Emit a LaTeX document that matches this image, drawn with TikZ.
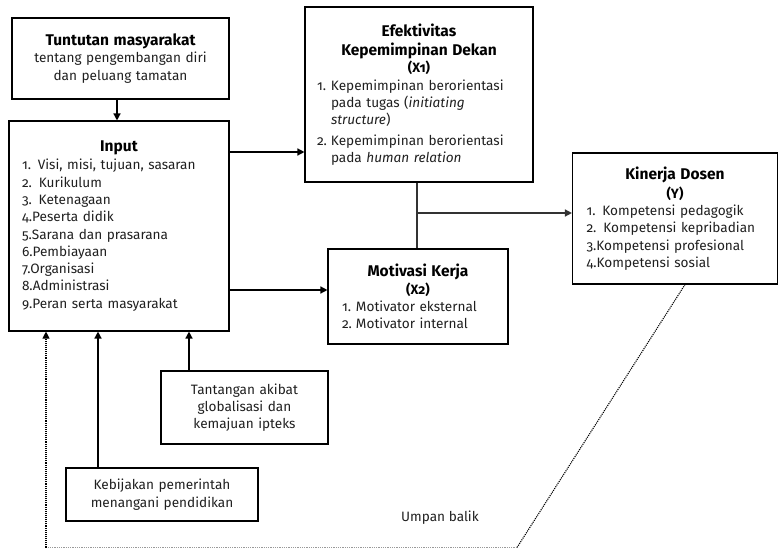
\documentclass[tikz,border=0pt]{standalone}
\usepackage{fontspec}
\setmainfont{Fira Sans}[Numbers=OldStyle]
\usetikzlibrary{arrows.meta}

\newcommand{\ttl}[1]{\makebox[\hsize]{\fontsize{15.5}{18}\selectfont\bfseries\color{black}#1}}
\newcommand{\subttl}[1]{\makebox[\hsize]{\fontsize{13.5}{16}\selectfont\bfseries\color{black}#1}}
\newcommand{\itm}[1]{\makebox[14pt][l]{#1}}

\begin{document}
\begin{tikzpicture}[x=1pt, y=-1pt, font=\fontsize{13.6}{17.3}\selectfont]
    \tikzstyle{box} = [draw, line width=1.1pt, inner sep=0pt, text=black!88]
    \tikzstyle{arr} = [line width=1.4pt, -{Triangle[length=7pt,width=7pt]}]

    \useasboundingbox (0,0) rectangle (780,549);

    \node[box, minimum width=217pt, minimum height=81pt, text width=205pt, align=center] (tun) at (120.5,58.5) {\ttl{Tuntutan masyarakat}\\ tentang pengembangan diri\\ dan peluang tamatan};

    \node[box, minimum width=220pt, minimum height=210pt, text width=194pt, align=left] (inp) at (119,226) {\ttl{Input}\\[1pt] 1. Visi, misi, tujuan, sasaran\\ 2. Kurikulum\\ 3. Ketenagaan\\ 4.Peserta didik\\ 5.Sarana dan prasarana\\ 6.Pembiayaan\\ 7.Organisasi\\ 8.Administrasi\\ 9.Peran serta masyarakat};

    \node[box, minimum width=228pt, minimum height=175pt, text width=204pt, align=left] (efek) at (419,94.5) {\ttl{Efektivitas}\\[2pt] \ttl{Kepemimpinan Dekan}\\ \subttl{(X1)}\\ \itm{1.}Kepemimpinan berorientasi\\ \itm{}pada tugas (\textit{initiating}\\ \itm{}\textit{structure})\\[3pt] \itm{2.}Kepemimpinan berorientasi\\ \itm{}pada \textit{human relation}};

    \node[box, minimum width=180pt, minimum height=95pt, text width=152pt, align=left] (mot) at (418,296.5) {\ttl{Motivasi Kerja}\\ \subttl{(X2)}\\ \itm{1.}Motivator eksternal\\ \itm{2.}Motivator internal};

    \node[box, minimum width=205pt, minimum height=131pt, text width=177pt, align=left] (kin) at (675,218.5) {\ttl{Kinerja Dosen}\\[2pt] \subttl{(Y)}\\ 1. Kompetensi pedagogik\\ 2. Kompetensi kepribadian\\ 3.Kompetensi profesional\\ 4.Kompetensi sosial};

    \node[box, minimum width=167pt, minimum height=73pt, text width=155pt, align=center] (tan) at (244.5,407.5) {Tantangan akibat\\ globalisasi dan\\ kemajuan ipteks};

    \node[box, minimum width=192pt, minimum height=53pt, text width=185pt, align=center] (keb) at (162,494.5) {Kebijakan pemerintah\\ menangani pendidikan};

    \node[text=black!88] (ub) at (440,518) {Umpan balik};

    \draw[arr] (tun.south -| 117,0) -- (inp.north -| 117,0);
    \draw[arr] (inp.east |- 0,152) -- (efek.west |- 0,152);
    \draw[arr] (inp.east |- 0,290) -- (mot.west |- 0,290);

    \draw[line width=1.4pt, black!80] (efek.south -| 417,0) -- (mot.north -| 417,0);
    \coordinate (jn) at (417,213);
    \draw[arr, black!80] (jn) -- (kin.west |- jn);

    \draw[arr] (tan.north -| 189,0) -- (inp.south -| 189,0);
    \draw[arr] (keb.north -| 98,0) -- (inp.south -| 98,0);

    % umpan balik
    \coordinate (fb1) at (517,547.5);
    \coordinate (fb2) at (46,547.5);
    \draw[densely dotted, line width=1.1pt] (kin.south -| 685,0) -- (fb1);
    \draw[densely dotted, line width=0.8pt, black!40] (fb1) -- (fb2);
    \draw[densely dotted, line width=1.1pt, -{Triangle[length=7pt,width=7pt]}] (fb2) -- (inp.south -| 46,0);
\end{tikzpicture}
\end{document}
